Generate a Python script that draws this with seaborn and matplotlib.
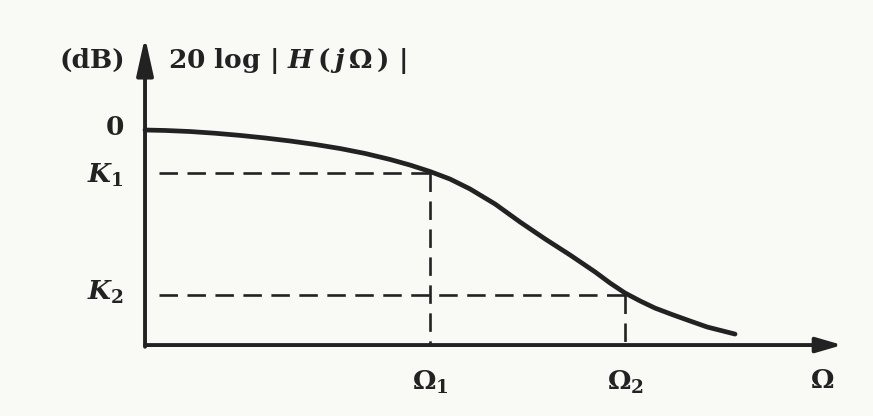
import numpy as np
import pandas as pd
import matplotlib
matplotlib.use("Agg")
import matplotlib.pyplot as plt
import seaborn as sns

# Magnitude response sketch of a lowpass filter (frequency normalised to Omega_1)
omega = [0.0, 0.070, 0.158, 0.246, 0.333, 0.421, 0.509, 0.596, 0.684, 0.772,
         0.860, 0.930, 1.0, 1.070, 1.140, 1.228, 1.316, 1.404, 1.491, 1.579,
         1.632, 1.684, 1.737, 1.789, 1.853, 1.912, 1.972, 2.070]
gain_db = [0.0, -0.02, -0.07, -0.15, -0.25, -0.37, -0.51, -0.67, -0.86, -1.09,
           -1.37, -1.63, -1.93, -2.28, -2.74, -3.44, -4.28, -5.07, -5.81, -6.60,
           -7.12, -7.58, -7.95, -8.28, -8.60, -8.88, -9.16, -9.49]

# Specification points: passband edge (Omega_1, K_1), stopband edge (Omega_2, K_2)
omega_edges = [1.0, 1.684]
k_levels = [-1.98, -7.67]
omega_labels = [r"$\Omega_1$", r"$\Omega_2$"]
k_labels = [r"$K_1$", r"$K_2$"]

axis_floor = -10.0
x_arrow_end = 2.446
y_arrow_end = 4.33

sns.set_theme(style="white")
plt.rcParams["font.family"] = ["DejaVu Serif"]
plt.rcParams["font.weight"] = "bold"
plt.rcParams["mathtext.fontset"] = "custom"
plt.rcParams["mathtext.rm"] = "DejaVu Serif:bold"
plt.rcParams["mathtext.it"] = "DejaVu Serif:italic:bold"
plt.rcParams["mathtext.bf"] = "DejaVu Serif:bold"

ink = "#222222"
bg = "#f9f9f6"

fig = plt.figure(figsize=(8.73, 4.16), dpi=100, facecolor=bg)
ax = fig.add_axes([0, 0, 1, 1])
ax.set_facecolor(bg)
ax.set_xlim(-0.5088, 2.554)
ax.set_ylim(-13.30, 6.047)
ax.axis("off")

df = pd.DataFrame({"omega": omega, "gain": gain_db})
sns.lineplot(data=df, x="omega", y="gain", ax=ax, color=ink, lw=3.4,
             solid_capstyle="round", solid_joinstyle="round", zorder=4)

dash = (0, (7.0, 3.6))
for w, k in zip(omega_edges, k_levels):
    ax.plot([0.05, w], [k, k], color=ink, lw=1.9, linestyle=dash, zorder=3)
    ax.plot([w, w], [k, axis_floor], color=ink, lw=1.9, linestyle=dash, zorder=3)

# Axes with arrowheads
ax.annotate("", xy=(x_arrow_end, axis_floor), xytext=(0, axis_floor),
            arrowprops=dict(arrowstyle="-|>,head_length=1.3,head_width=0.38",
                            color=ink, lw=2.8, shrinkA=0, shrinkB=0), zorder=5)
ax.annotate("", xy=(0, y_arrow_end), xytext=(0, axis_floor - 0.08),
            arrowprops=dict(arrowstyle="-|>,head_length=1.9,head_width=0.42",
                            color=ink, lw=2.8, shrinkA=0, shrinkB=0), zorder=5)

fs = 19
ax.text(-0.075, 0.1, "0", ha="right", va="center", fontsize=fs, color=ink,
        fontweight="bold")
for k, lab, dy in zip(k_levels, k_labels, [-0.15, 0.1]):
    ax.text(-0.075, k + dy, lab, ha="right", va="center", fontsize=fs, color=ink)
for w, lab in zip(omega_edges, omega_labels):
    ax.text(w, axis_floor - 1.75, lab, ha="center", va="center", fontsize=fs,
            color=ink)
ax.text(2.375, axis_floor - 1.65, r"$\Omega$", ha="center", va="center",
        fontsize=fs, color=ink)

ax.text(-0.07, 3.23, "(dB)", ha="right", va="center", fontsize=fs, color=ink,
        fontweight="bold")
ax.text(0.08, 3.23, r"20 log | $H\,(\,j\,\Omega\,)$ |", ha="left", va="center",
        fontsize=fs, color=ink, fontweight="bold")

fig.savefig("out.png", dpi=100, facecolor=bg)
